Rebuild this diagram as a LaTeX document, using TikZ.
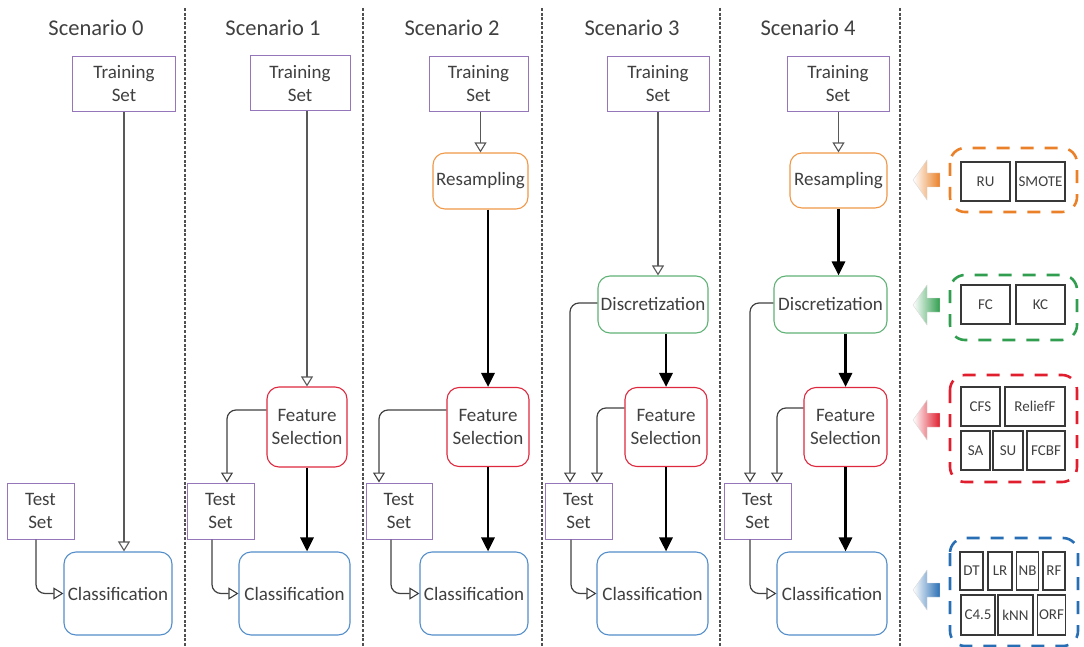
\documentclass[tikz,border=0pt]{standalone}
\usepackage{fontspec}
\setmainfont{Carlito}
\usetikzlibrary{arrows.meta}

\definecolor{txt}{RGB}{64,64,64}
\definecolor{setpurple}{RGB}{150,118,186}
\definecolor{resorange}{RGB}{240,152,72}
\definecolor{discgreen}{RGB}{96,178,118}
\definecolor{fsred}{RGB}{222,40,62}
\definecolor{clsblue}{RGB}{84,142,202}
\definecolor{lgorange}{RGB}{234,128,40}
\definecolor{lggreen}{RGB}{48,158,78}
\definecolor{lgred}{RGB}{224,30,46}
\definecolor{lgblue}{RGB}{40,110,180}
\definecolor{sepgray}{RGB}{80,80,80}

\tikzset{
  nodefont/.style={font=\fontsize{19}{23}\selectfont, text=txt, align=center, inner sep=0pt},
  setbox/.style={nodefont, draw=setpurple, line width=1pt, fill=white, minimum height=55pt},
  procbox/.style={nodefont, draw=#1, line width=1.1pt, fill=white, rounded corners=12pt},
  sep/.style={sepgray, line width=1.3pt, dash pattern=on 3pt off 1.6pt},
  thinarrow/.style={draw=black!65, line width=1.2pt, -{Triangle[open, width=12pt, length=10pt, line width=1.1pt]}},
  thickarrow/.style={draw=black, line width=2.8pt, -{Triangle[width=13pt, length=14pt]}},
  conn/.style={draw=black!75, line width=1.2pt, rounded corners=9pt, -{Triangle[open, width=12pt, length=10pt, line width=1.1pt]}},
  title/.style={font=\fontsize{22.5}{26}\selectfont, text=txt, inner sep=0pt},
  lgframe/.style={draw=#1, line width=2.6pt, dash pattern=on 13pt off 11pt, rounded corners=15pt},
  lgitem/.style={draw=black!78, line width=1.3pt, fill=white, font=\fontsize{15}{17}\selectfont, text=txt, inner sep=0pt},
  lgarrow/.style={draw=black!15, line width=0.4pt, left color=white, right color=#1},
}

\begin{document}
\begin{tikzpicture}[x=1pt, y=-1pt]
\useasboundingbox (0,0) rectangle (1084,647);

% column separators
\foreach \sx in {185,363,542,720,900}
  \draw[sep] (\sx,8) -- (\sx,647);

% scenario titles
\node[title] (t0) at (96,28)  {Scenario 0};
\node[title] (t1) at (273,28) {Scenario 1};
\node[title] (t2) at (452,28) {Scenario 2};
\node[title] (t3) at (632,28) {Scenario 3};
\node[title] (t4) at (808,28) {Scenario 4};

% ---------- Scenario 0 ----------
\node[setbox, minimum width=103pt] (ts0) at (124,84) {Training\\Set};
\node[setbox, minimum width=67pt, minimum height=56pt] (te0) at (40.5,511) {Test\\Set};
\node[procbox=clsblue, minimum width=108pt, minimum height=83pt] (cl0) at (118,593.5) {Classification};
\draw[thinarrow] (ts0.south) -- (ts0.south |- cl0.north);
\draw[conn] ([xshift=-4.5pt]te0.south) |- (cl0.west);

% ---------- Scenario 1 ----------
\node[setbox, minimum width=100pt] (ts1) at (300,83.5) {Training\\Set};
\node[procbox=fsred, minimum width=80pt, minimum height=80pt] (fs1) at (307,427) {Feature\\Selection};
\node[setbox, minimum width=67pt, minimum height=56pt] (te1) at (220.5,511) {Test\\Set};
\node[procbox=clsblue, minimum width=111pt, minimum height=83pt] (cl1) at (294.5,593.5) {Classification};
\draw[thinarrow] (fs1.north |- ts1.south) -- (fs1.north);
\draw[thickarrow] (fs1.south) -- (fs1.south |- cl1.north);
\draw[conn] ([yshift=17pt]fs1.west) -| ([xshift=6.5pt]te1.north);
\draw[conn] ([xshift=-8.5pt]te1.south) |- (cl1.west);

% ---------- Scenario 2 ----------
\node[setbox, minimum width=99pt] (ts2) at (478.5,84) {Training\\Set};
\node[procbox=resorange, minimum width=95pt, minimum height=56pt] (rs2) at (480.5,181) {Resampling};
\node[procbox=fsred, minimum width=82pt, minimum height=79pt] (fs2) at (488,427) {Feature\\Selection};
\node[setbox, minimum width=66pt, minimum height=56pt] (te2) at (399,511) {Test\\Set};
\node[procbox=clsblue, minimum width=108pt, minimum height=83pt] (cl2) at (474,593.5) {Classification};
\draw[thinarrow] (rs2.north |- ts2.south) -- (rs2.north);
\draw[thickarrow] (fs2.north |- rs2.south) -- (fs2.north);
\draw[thickarrow] (fs2.south) -- (fs2.south |- cl2.north);
\draw[conn] ([yshift=17pt]fs2.west) -| ([xshift=-20pt]te2.north);
\draw[conn] ([xshift=-8pt]te2.south) |- (cl2.west);

% ---------- Scenario 3 ----------
\node[setbox, minimum width=102pt] (ts3) at (658,84) {Training\\Set};
\node[procbox=discgreen, minimum width=110pt, minimum height=57pt] (dc3) at (653,304.5) {Discretization};
\node[procbox=fsred, minimum width=82pt, minimum height=79pt] (fs3) at (666,427) {Feature\\Selection};
\node[setbox, minimum width=67pt, minimum height=56pt] (te3) at (578.5,511) {Test\\Set};
\node[procbox=clsblue, minimum width=111pt, minimum height=83pt] (cl3) at (652.5,593.5) {Classification};
\draw[thinarrow] (ts3.south) -- (ts3.south |- dc3.north);
\draw[thickarrow] (fs3.north |- dc3.south) -- (fs3.north);
\draw[thickarrow] (fs3.south) -- (fs3.south |- cl3.north);
\draw[conn] ([yshift=1.5pt]dc3.west) -| ([xshift=-8.5pt]te3.north);
\draw[conn] ([yshift=19pt]fs3.west) -| ([xshift=18.5pt]te3.north);
\draw[conn] ([xshift=-7.5pt]te3.south) |- (cl3.west);

% ---------- Scenario 4 ----------
\node[setbox, minimum width=102pt] (ts4) at (838,84) {Training\\Set};
\node[procbox=resorange, minimum width=97pt, minimum height=55pt] (rs4) at (838.5,180.5) {Resampling};
\node[procbox=discgreen, minimum width=113pt, minimum height=57pt] (dc4) at (830.5,304.5) {Discretization};
\node[procbox=fsred, minimum width=83pt, minimum height=79pt] (fs4) at (845.5,427) {Feature\\Selection};
\node[setbox, minimum width=67pt, minimum height=56pt] (te4) at (757.5,511) {Test\\Set};
\node[procbox=clsblue, minimum width=110pt, minimum height=83pt] (cl4) at (832,593.5) {Classification};
\draw[thinarrow] (rs4.north |- ts4.south) -- (rs4.north);
\draw[thickarrow] (rs4.south) -- (rs4.south |- dc4.north);
\draw[thickarrow] (fs4.north |- dc4.south) -- (fs4.north);
\draw[thickarrow] (fs4.south) -- (fs4.south |- cl4.north);
\draw[conn] ([yshift=1.5pt]dc4.west) -| ([xshift=-7.5pt]te4.north);
\draw[conn] ([yshift=19pt]fs4.west) -| ([xshift=19.5pt]te4.north);
\draw[conn] ([xshift=-7.5pt]te4.south) |- (cl4.west);

% ---------- legend: method groups ----------
% block arrows pointing to the scenarios
\foreach \cy/\cc in {180/lgorange, 305/lggreen, 420/lgred, 590/lgblue}
  \draw[lgarrow=\cc] (913,\cy) -- (927,\cy-20) -- (927,\cy-7) -- (940,\cy-7)
        -- (940,\cy+7) -- (927,\cy+7) -- (927,\cy+20) -- cycle;

% resampling methods
\draw[lgframe=lgorange] (950,148) rectangle (1077,212);
\node[lgitem, minimum width=49pt, minimum height=39pt] (ru) at (985.5,181.5) {RU};
\node[lgitem, minimum width=49pt, minimum height=39pt] (smote) at (1040.5,181.5) {SMOTE};

% discretization methods
\draw[lgframe=lggreen] (950,275) rectangle (1077,340);
\node[lgitem, minimum width=49pt, minimum height=39pt] (fc) at (985.5,304.5) {FC};
\node[lgitem, minimum width=49pt, minimum height=39pt] (kc) at (1040.5,304.5) {KC};

% feature selection methods
\draw[lgframe=lgred] (950,375) rectangle (1077,482);
\node[lgitem, minimum width=39pt, minimum height=39pt] (cfs) at (980.5,406.5) {CFS};
\node[lgitem, minimum width=60pt, minimum height=39pt] (relieff) at (1035,406.5) {ReliefF};
\node[lgitem, minimum width=29pt, minimum height=39pt] (sa) at (975.5,450.5) {SA};
\node[lgitem, minimum width=30pt, minimum height=39pt] (su) at (1008,450.5) {SU};
\node[lgitem, minimum width=38pt, minimum height=39pt] (fcbf) at (1046,450.5) {FCBF};

% classifiers
\draw[lgframe=lgblue] (950,538) rectangle (1078,646);
\node[lgitem, minimum width=23pt, minimum height=38pt] (dt) at (971.5,571) {DT};
\node[lgitem, minimum width=24pt, minimum height=38pt] (lr) at (1000,571) {LR};
\node[lgitem, minimum width=22pt, minimum height=38pt] (nb) at (1027.5,571) {NB};
\node[lgitem, minimum width=22pt, minimum height=38pt] (rf) at (1054,571) {RF};
\node[lgitem, minimum width=34pt, minimum height=40pt] (c45) at (978,615) {C4.5};
\node[lgitem, minimum width=35pt, minimum height=40pt] (knn) at (1015.5,615) {kNN};
\node[lgitem, minimum width=28pt, minimum height=40pt] (orf) at (1051.5,615) {ORF};
\end{tikzpicture}
\end{document}
